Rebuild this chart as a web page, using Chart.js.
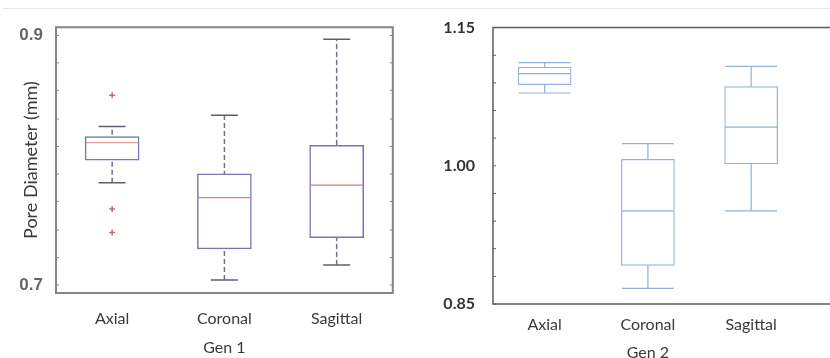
<!DOCTYPE html>
<html>
<head>
<meta charset="utf-8">
<script src="https://cdn.jsdelivr.net/npm/chart.js@4.4.0/dist/chart.umd.min.js"></script>
<style>
  html, body { margin: 0; padding: 0; background: #fff; overflow: hidden; width: 830px; height: 358px; }
  #topline { position: absolute; left: 3px; right: 0; top: 8px; border-top: 1px solid #e6e6e6; }
  #gen1 { position: absolute; left: 0; top: 0; }
  #gen2 { position: absolute; left: 420px; top: 0; }
</style>
</head>
<body>
<div id="topline"></div>
<canvas id="gen1" width="420" height="358"></canvas>
<canvas id="gen2" width="410" height="362"></canvas>
<script>
// ---- data ----
const categories = ["Axial", "Coronal", "Sagittal"];

// Gen 1 (boxplot gaya MATLAB)
const gen1Min = [0.782, 0.704, 0.716];
const gen1Q1 = [0.800, 0.729, 0.738];
const gen1Median = [0.814, 0.770, 0.780];
const gen1Q3 = [0.819, 0.789, 0.812];
const gen1Max = [0.827, 0.836, 0.897];
const gen1Outliers = [
  { x: "Axial", y: 0.852 },
  { x: "Axial", y: 0.761 },
  { x: "Axial", y: 0.742 },
];
const gen1Ticks = [0.7, 0.722, 0.744, 0.767, 0.789, 0.811, 0.833, 0.856, 0.878, 0.9];
const gen1TickLabels = [0.7, 0.9];

// Gen 2 (boxplot gaya Excel)
const gen2Min = [1.079, 0.867, 0.951];
const gen2Q1 = [1.088, 0.892, 1.002];
const gen2Median = [1.100, 0.951, 1.042];
const gen2Q3 = [1.107, 1.007, 1.086];
const gen2Max = [1.112, 1.024, 1.108];
const gen2TickLabels = [0.85, 1.0, 1.15];

// ---- plugin: bingkai + tick ke dalam ----
const framePlugin = {
  id: "frame",
  afterDraw(chart, args, opts) {
    const { ctx, chartArea: a } = chart;
    const y = chart.scales.y;
    ctx.save();
    ctx.strokeStyle = opts.color;
    ctx.lineWidth = opts.width;
    ctx.beginPath();
    if (opts.full) {
      ctx.rect(a.left, a.top, a.right - a.left, a.bottom - a.top);
    } else {
      ctx.moveTo(chart.width, a.top);
      ctx.lineTo(a.left, a.top);
      ctx.lineTo(a.left, a.bottom);
      ctx.lineTo(chart.width, a.bottom);
    }
    ctx.stroke();
    ctx.lineWidth = 1;
    ctx.beginPath();
    y.ticks.forEach((t) => {
      const py = y.getPixelForValue(t.value);
      ctx.moveTo(a.left, py);
      ctx.lineTo(a.left + opts.tick, py);
      if (opts.full) {
        ctx.moveTo(a.right, py);
        ctx.lineTo(a.right - opts.tick, py);
      }
    });
    ctx.stroke();
    ctx.restore();
  },
};

// bikin dataset boxplot dari array
function boxDatasets(mins, q1, med, q3, maxs, st) {
  const sets = [];
  categories.forEach((c, i) => {
    sets.push({
      type: "line",
      data: [{ x: c, y: mins[i] }, { x: c, y: maxs[i] }],
      borderColor: st.whisker,
      borderWidth: st.whiskerWidth,
      borderDash: st.dash,
      pointRadius: 0,
      order: 4,
    });
  });
  sets.push({
    type: "bar",
    data: categories.map((c, i) => [q1[i], q3[i]]),
    backgroundColor: "#ffffff",
    borderColor: st.box,
    borderWidth: st.boxWidth,
    borderSkipped: false,
    barThickness: st.boxThickness,
    order: 3,
  });
  // caps
  sets.push({
    type: "line",
    showLine: false,
    data: categories.flatMap((c, i) => [{ x: c, y: mins[i] }, { x: c, y: maxs[i] }]),
    pointStyle: "line",
    pointRadius: st.capRadius,
    pointBorderColor: st.cap,
    pointBorderWidth: st.capWidth,
    order: 2,
  });
  // median
  sets.push({
    type: "line",
    showLine: false,
    data: categories.map((c, i) => ({ x: c, y: med[i] })),
    pointStyle: "line",
    pointRadius: st.medRadius,
    pointBorderColor: st.median,
    pointBorderWidth: st.medWidth,
    order: 1,
  });
  return sets;
}

const near = (list, v) => list.some((t) => Math.abs(t - v) < 1e-6);

// ---- Gen 1 ----
const gen1Sets = boxDatasets(gen1Min, gen1Q1, gen1Median, gen1Q3, gen1Max, {
  whisker: "#6f6f8a", whiskerWidth: 1.5, dash: [5, 3],
  box: "#7676b4", boxWidth: 1.5, boxThickness: 54,
  cap: "#5f5f6f", capWidth: 1.5, capRadius: 13.5,
  median: "#d98080", medRadius: 26, medWidth: 1.2,
});
gen1Sets.push({
  type: "line",
  showLine: false,
  data: gen1Outliers,
  pointStyle: "cross",
  pointRadius: 3,
  pointBorderColor: "#c86a6a",
  pointBorderWidth: 1.5,
  order: 0,
});

new Chart(document.getElementById("gen1"), {
  type: "bar",
  data: { labels: categories, datasets: gen1Sets },
  plugins: [framePlugin],
  options: {
    responsive: false,
    animation: false,
    layout: { padding: { top: 25, right: 14, left: 0, bottom: 0 } },
    plugins: {
      legend: { display: false },
      tooltip: { enabled: false },
      frame: { color: "#858585", width: 2, full: true, tick: 3 },
    },
    scales: {
      x: {
        type: "category",
        offset: true,
        grid: { display: false, drawTicks: false },
        border: { display: false },
        ticks: { color: "#3a3a3a", padding: 16, font: { family: "Lato", size: 16 } },
        title: { display: true, text: "Gen 1", color: "#3a3a3a", padding: { top: 0, bottom: 1 }, font: { family: "Lato", size: 16 } },
        afterFit: (s) => { s.height = 65; },
      },
      y: {
        min: 0.6936,
        max: 0.9066,
        grid: { display: false, drawTicks: false },
        border: { display: false },
        afterBuildTicks: (s) => { s.ticks = gen1Ticks.map((v) => ({ value: v })); },
        ticks: {
          color: "#666",
          padding: 13,
          font: { family: "Liberation Sans", size: 17, weight: "bold" },
          callback: (v) => (near(gen1TickLabels, v) ? v.toFixed(1) : ""),
        },
        title: { display: true, text: "Pore Diameter (mm)", color: "#3a3a3a", padding: { top: 20, bottom: 0 }, font: { family: "Lato", size: 18 } },
        afterFit: (s) => { s.width = 56; },
      },
    },
  },
});

// ---- Gen 2 ----
const gen2Sets = boxDatasets(gen2Min, gen2Q1, gen2Median, gen2Q3, gen2Max, {
  whisker: "#94afdc", whiskerWidth: 1.2, dash: [],
  box: "#94afdc", boxWidth: 1.2, boxThickness: 53,
  cap: "#94afdc", capWidth: 1.2, capRadius: 26,
  median: "#94afdc", medRadius: 26, medWidth: 1.2,
});

new Chart(document.getElementById("gen2"), {
  type: "bar",
  data: { labels: categories, datasets: gen2Sets },
  plugins: [framePlugin],
  options: {
    responsive: false,
    animation: false,
    layout: { padding: { top: 16, right: 19, left: 0, bottom: 0 } },
    plugins: {
      legend: { display: false },
      tooltip: { enabled: false },
      frame: { color: "#5e5e5e", width: 1.5, full: false, tick: 3 },
    },
    scales: {
      x: {
        type: "category",
        offset: true,
        grid: { display: false, drawTicks: false },
        border: { display: false },
        ticks: { color: "#3a3a3a", padding: 11, font: { family: "Lato", size: 16 } },
        title: { display: true, text: "Gen 2", color: "#3a3a3a", padding: { top: 0, bottom: 0 }, font: { family: "Lato", size: 16 } },
        afterFit: (s) => { s.height = 58; },
      },
      y: {
        min: 0.85,
        max: 1.15,
        grid: { display: false, drawTicks: false },
        border: { display: false },
        ticks: {
          stepSize: 0.03,
          color: "#333",
          padding: 18,
          font: { family: "Lato", size: 16, weight: "bold" },
          callback: (v) => (near(gen2TickLabels, v) ? v.toFixed(2) : ""),
        },
        afterFit: (s) => { s.width = 73; },
      },
    },
  },
});
</script>
</body>
</html>
